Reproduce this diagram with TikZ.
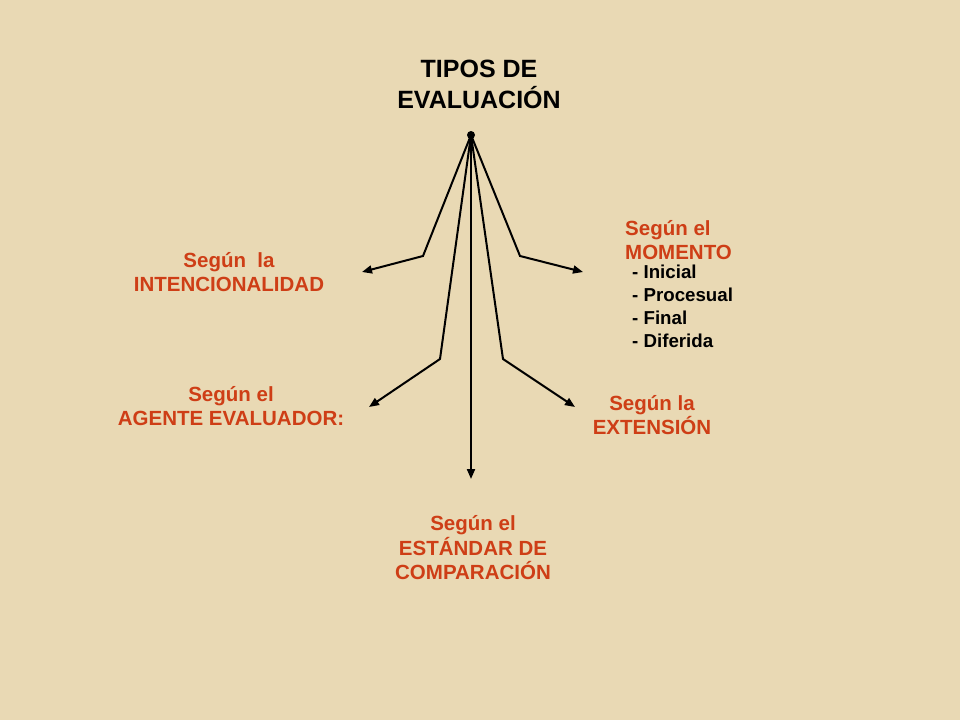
\documentclass[tikz,border=0pt]{standalone}
\usepackage{fontspec}
\setmainfont{Liberation Sans}
\usetikzlibrary{arrows.meta}

\definecolor{parch}{RGB}{233,217,180}
\definecolor{rojo}{RGB}{206,62,22}

\tikzset{
  rama/.style={line width=2pt, -{Triangle[length=10pt,width=8pt]}},
  tipo/.style={text=rojo, font=\bfseries\fontsize{20.5}{24.5}\selectfont, align=center, inner sep=0pt},
  lista/.style={font=\bfseries\fontsize{18.7}{23}\selectfont, align=left, inner sep=0pt}
}

\begin{document}
\begin{tikzpicture}[x=1pt,y=-1pt]
        \fill[parch] (0,0) rectangle (960,720);
        \useasboundingbox (0,0) rectangle (960,720);

        \node[font=\bfseries\fontsize{25}{31}\selectfont, align=center, inner sep=0pt] (titulo) at (479,84) {TIPOS DE\\EVALUACIÓN};
        \node[circle, fill, inner sep=0pt, minimum size=8pt] (raiz) at (471,135) {};

        \node[tipo] (intenc) at (229,272) {Según\ \ la\\INTENCIONALIDAD};
        \node[tipo] (agente) at (231,406) {Según el\\AGENTE EVALUADOR:};
        \node[tipo] (estandar) at (473,548) {Según el\\ESTÁNDAR DE\\COMPARACIÓN};
        \node[tipo] (extension) at (652,415) {Según la\\EXTENSIÓN};
        \node[tipo, align=left, anchor=west] (momento) at (625,240) {Según el\\MOMENTO};
        \node[lista, anchor=west] (fases) at (632,306) {- Inicial\\- Procesual\\- Final\\- Diferida};

        \coordinate (finI) at (362,272);
        \coordinate (finM) at (583,272);
        \coordinate (finA) at (369,407);
        \coordinate (finX) at (575,407);
        \coordinate (finE) at (471,479);

        \draw[rama] (raiz.center) -- (423,256) -- (finI);
        \draw[rama] (raiz.center) -- (520,256) -- (finM);
        \draw[rama] (raiz.center) -- (440,359) -- (finA);
        \draw[rama] (raiz.center) -- (503,359) -- (finX);
        \draw[rama] (raiz.center) -- (finE);

\end{tikzpicture}
\end{document}
